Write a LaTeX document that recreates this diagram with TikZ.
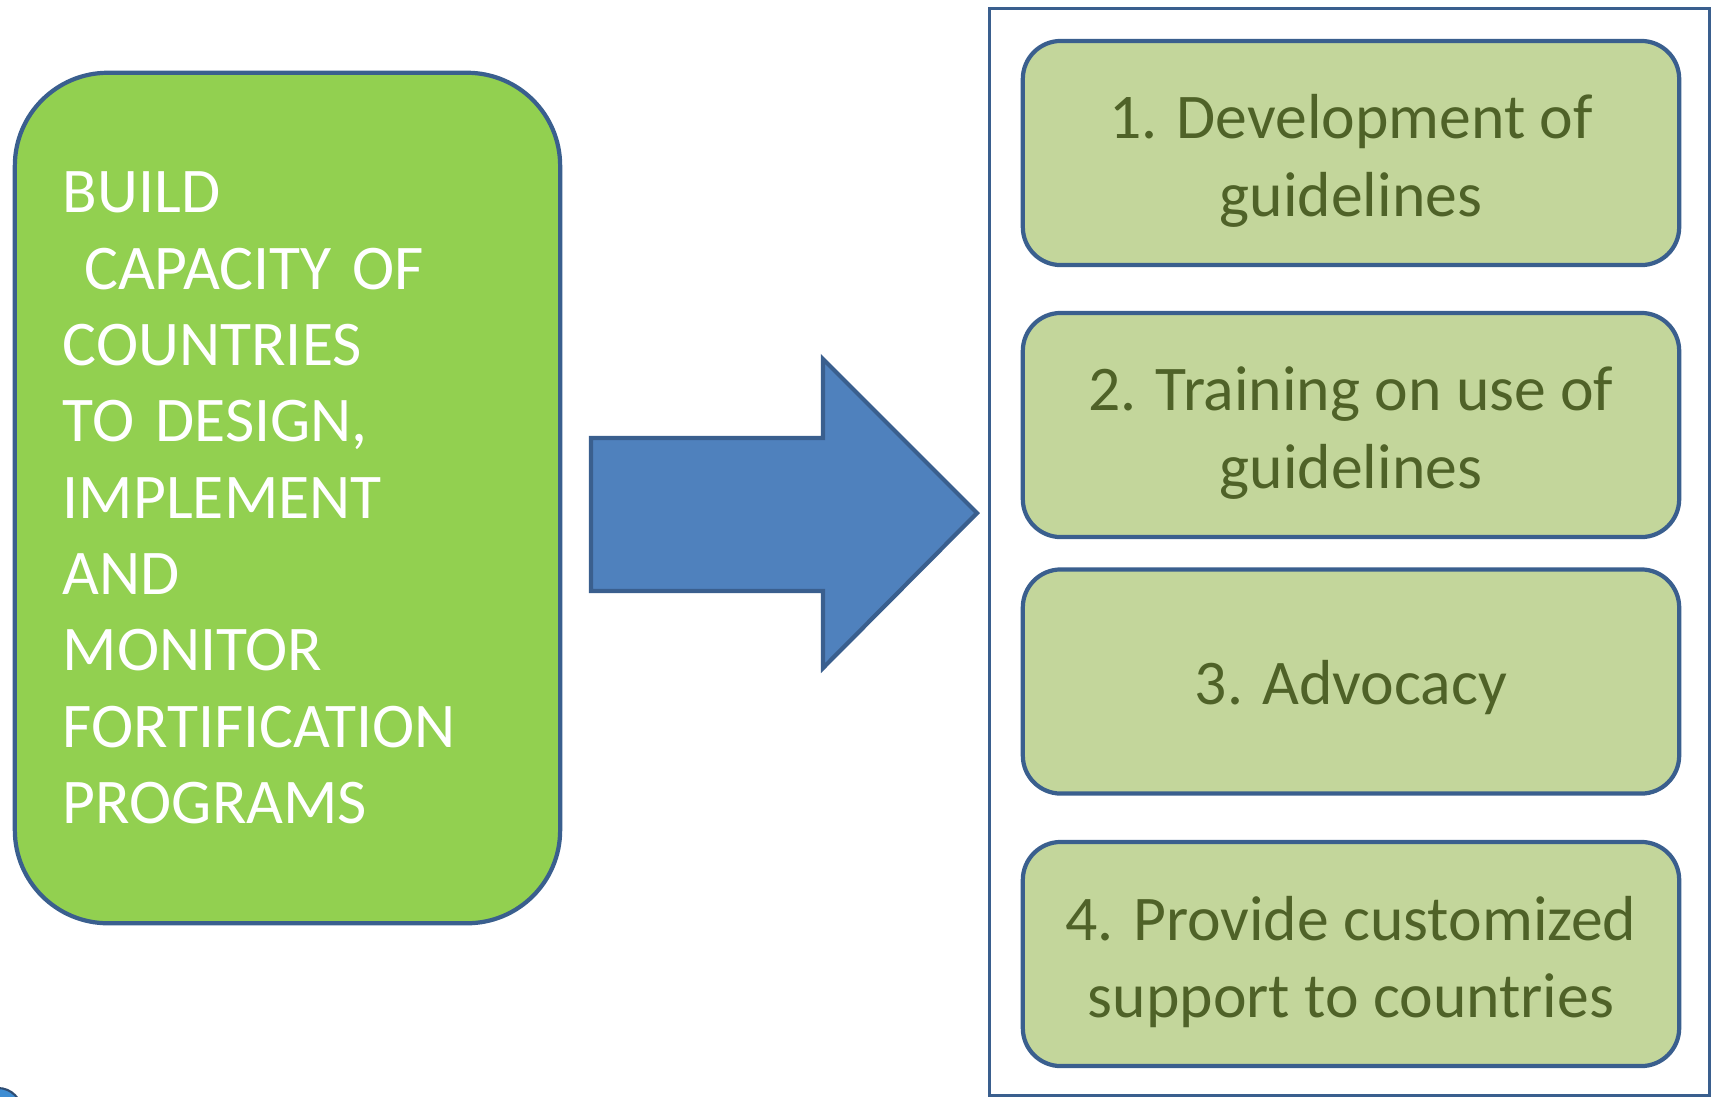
\documentclass[tikz,border=0pt]{standalone}
\usepackage{fontspec}
\setmainfont{Carlito}
\usepackage{tikz}
\usetikzlibrary{shapes,backgrounds}

\definecolor{edgeblue}{HTML}{3A5F8E}
\definecolor{arrowblue}{HTML}{4F81BD}
\definecolor{leafgreen}{HTML}{92D050}
\definecolor{palegreen}{HTML}{C3D69B}
\definecolor{olivetext}{HTML}{4F6228}

\begin{document}
\begin{tikzpicture}[x=0.01cm,y=-0.01cm,
                goalbox/.style={draw=edgeblue, line width=1.2pt, fill=leafgreen,
                    rounded corners=0.93cm, minimum width=5.45cm, minimum height=8.5cm,
                    text width=4.49cm, inner xsep=0.48cm, align=left, text=white,
                    font=\fontsize{18.1}{21.7}\selectfont},
                taskbox/.style={draw=edgeblue, line width=1.2pt, fill=palegreen,
                    rounded corners=0.38cm, minimum width=6.56cm, minimum height=2.24cm},
                tasktext/.style={align=center, text=olivetext, inner sep=0pt,
                    font=\fontsize{18.1}{22}\selectfont}]
                \useasboundingbox (0,0) rectangle (1712,1096);
                % logo fragment in the corner
                \begin{scope}
                    \clip (0,1060) rectangle (30,1096);
                    \fill[cyan!60!blue!80, draw=edgeblue!80!black, line width=0.6pt] (-2,1112) circle (24);
                \end{scope}
                \node[goalbox] (goal) at (287.5,498) {BUILD\\
                    ~CAPACITY OF\\COUNTRIES\\TO DESIGN,\\IMPLEMENT\\AND\\MONITOR\\FORTIFICATION\\PROGRAMS};
                % block arrow
                \draw[edgeblue, line width=1.2pt, fill=arrowblue, line join=miter]
                    (591,438) -- (823,438) -- (823,359) -- (977,513)
                    -- (823,668) -- (823,591) -- (591,591) -- cycle;
                \node[draw=edgeblue, line width=0.9pt, minimum width=7.19cm, minimum height=10.86cm,
                    inner sep=0pt] (frame) at (1349.5,552) {};
                \node[taskbox] (s1) at (1351,153) {};
                \node[taskbox] (s2) at (1351,425) {};
                \node[taskbox] (s3) at (1351,681.5) {};
                \node[taskbox] (s4) at (1351,954) {};
                \node[tasktext] (t1) at ([yshift=-0.08cm]s1.center) {1. Development of\\guidelines};
                \node[tasktext] (t2) at ([yshift=-0.08cm]s2.center) {2. Training on use of\\guidelines};
                \node[tasktext] (t3) at ([yshift=-0.06cm]s3.center) {3. Advocacy};
                \node[tasktext] (t4) at ([yshift=-0.08cm]s4.center) {4. Provide customized\\support to countries};
            \end{tikzpicture}
\end{document}
